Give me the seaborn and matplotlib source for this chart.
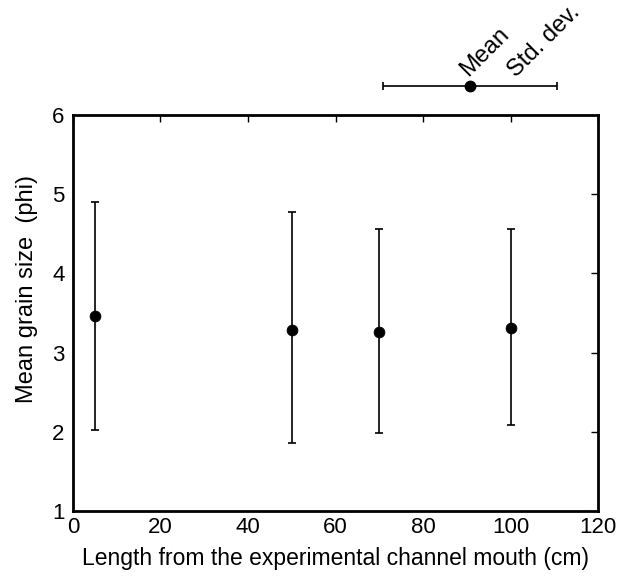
import matplotlib
matplotlib.use("Agg")
import matplotlib.pyplot as plt
import seaborn as sns
import pandas as pd

distance = [5, 50, 70, 100]
mean_phi = [3.46, 3.29, 3.26, 3.31]
upper_phi = [4.90, 4.77, 4.56, 4.56]
lower_phi = [2.02, 1.86, 1.98, 2.08]

legend_x = [90.7]
legend_y = [6.37]
legend_err = [19.8]

sns.set_style("white")
plt.rcParams['font.family'] = ['Liberation Sans', 'DejaVu Sans']
plt.rcParams['text.color'] = 'black'
plt.rcParams['axes.labelcolor'] = 'black'

df = pd.DataFrame({"x": distance, "y": mean_phi})

fig = plt.figure(figsize=(6.29, 5.78), dpi=100)
ax = fig.add_axes([0.116, 0.116, 0.835, 0.685])

yerr = [[m - l for m, l in zip(mean_phi, lower_phi)],
        [u - m for m, u in zip(mean_phi, upper_phi)]]
ax.errorbar(distance, mean_phi, yerr=yerr, fmt='none', ecolor='black',
            elinewidth=1.2, capsize=3, capthick=1.2, zorder=2)
sns.scatterplot(data=df, x="x", y="y", ax=ax, color='black', s=60,
                edgecolor='black', zorder=3, legend=False)

# legend key above plot
ax.errorbar(legend_x, legend_y, xerr=legend_err, fmt='o', color='black',
            markersize=7.5, elinewidth=1.2, capsize=3, capthick=1.2,
            clip_on=False, zorder=3)
ax.text(91.0, 6.44, "Mean", rotation=45, fontsize=17, ha='left', va='bottom',
        transform=ax.transData, rotation_mode='anchor', color='black')
ax.text(102.0, 6.42, "Std. dev.", rotation=45, fontsize=17, ha='left', va='bottom',
        transform=ax.transData, rotation_mode='anchor', color='black')

ax.set_xlim(0, 120)
ax.set_ylim(1, 6)
ax.set_xticks([0, 20, 40, 60, 80, 100, 120])
ax.set_yticks([1, 2, 3, 4, 5, 6])
ax.tick_params(direction='in', top=True, right=True, length=5, width=1,
               labelsize=16, colors='black')
ax.tick_params(axis='y', pad=6)
ax.tick_params(axis='x', pad=4)
for s in ax.spines.values():
    s.set_linewidth(2)
    s.set_color('black')
ax.set_xlabel("Length from the experimental channel mouth (cm)", fontsize=16.5,
              labelpad=7, color='black')
ax.set_ylabel("Mean grain size  (phi)", fontsize=17, color='black')
ax.yaxis.set_label_coords(-0.067, 0.56)

fig.savefig("out.png", dpi=100)
